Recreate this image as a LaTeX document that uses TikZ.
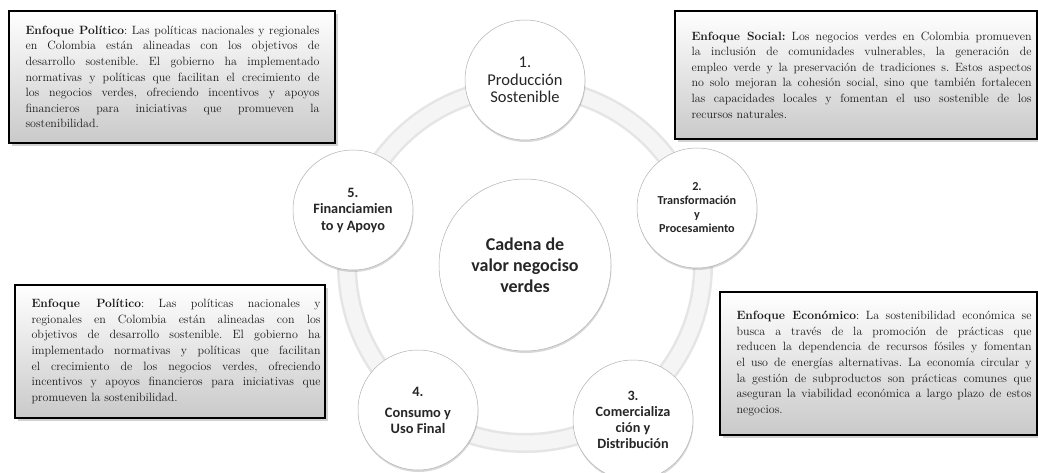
\documentclass[tikz,border=0pt]{standalone}
\usepackage{fontspec}
\newfontfamily\carl{Carlito}
\usetikzlibrary{shadows}
\tikzset{
  notebox/.style={draw=black, line width=1.3pt, top color=white, bottom color=gray!42,
    inner sep=0pt, rectangle,
    drop shadow={shadow xshift=2.5pt, shadow yshift=-3pt, opacity=0.35}},
  notetext/.style={anchor=west, inner sep=0pt, align=justify, text=black!90,
    font=\fontsize{12}{15.6}\selectfont,
    execute at begin node={\hyphenpenalty=10000\relax\exhyphenpenalty=10000\relax\frenchspacing}},
  stage/.style={circle, minimum size=120pt, inner sep=0pt, fill=white, draw=gray!60,
    line width=0.5pt, align=center, text=black!85,
    drop shadow={shadow xshift=0.5pt, shadow yshift=-2pt, opacity=0.3}},
  ringbase/.style={draw=gray!20, line width=20pt},
  ringtop/.style={draw=gray!8, line width=15pt},
}
\begin{document}
\begin{tikzpicture}[x=1pt, y=-1pt]
\useasboundingbox (0,0) rectangle (1038,473);
\fill[white] (0,0) rectangle (1038,473);

% ring
\coordinate (ctr) at (525,265);
\draw[ringbase] (ctr) circle[radius=178];
\draw[ringtop] (ctr) circle[radius=178];

% boxes
\node[notebox, minimum width=326pt, minimum height=132pt] (tlbox) at (172,77) {};
\node[notetext, text width=294pt] (tltext) at ([xshift=17pt]tlbox.west) {%
\textbf{Enfoque Político}: Las políticas nacionales y regionales\linebreak
en Colombia están alineadas con los objetivos de\linebreak
desarrollo sostenible. El gobierno ha implementado\linebreak
normativas y políticas que facilitan el crecimiento de\linebreak
los negocios verdes, ofreciendo incentivos y apoyos\linebreak
financieros para iniciativas que promueven la\linebreak
sostenibilidad.};

\node[notebox, minimum width=362pt, minimum height=128pt] (trbox) at (856,75) {};
\node[notetext, text width=340pt] (trtext) at ([xshift=17pt]trbox.west) {%
\textbf{Enfoque Social:} Los negocios verdes en Colombia promueven\linebreak
la inclusión de comunidades vulnerables, la generación de\linebreak
empleo verde y la preservación de tradiciones s. Estos aspectos\linebreak
no solo mejoran la cohesión social, sino que también fortalecen\linebreak
las capacidades locales y fomentan el uso sostenible de los\linebreak
recursos naturales.};

\node[notebox, minimum width=310pt, minimum height=133pt] (blbox) at (170,351.5) {};
\node[notetext, text width=289pt] (bltext) at ([xshift=17pt]blbox.west) {%
\textbf{Enfoque Político}: Las políticas nacionales y\linebreak
regionales en Colombia están alineadas con los\linebreak
objetivos de desarrollo sostenible. El gobierno ha\linebreak
implementado normativas y políticas que facilitan\linebreak
el crecimiento de los negocios verdes, ofreciendo\linebreak
incentivos y apoyos financieros para iniciativas que\linebreak
promueven la sostenibilidad.};

\node[notebox, minimum width=317pt, minimum height=143pt] (brbox) at (878.5,363.5) {};
\node[notetext, text width=295pt] (brtext) at ([xshift=17pt]brbox.west) {%
\textbf{Enfoque Económico}: La sostenibilidad económica se\linebreak
busca a través de la promoción de prácticas que\linebreak
reducen la dependencia de recursos fósiles y fomentan\linebreak
el uso de energías alternativas. La economía circular y\linebreak
la gestión de subproductos son prácticas comunes que\linebreak
aseguran la viabilidad económica a largo plazo de estos\linebreak
negocios.};

% circles
\node[stage, minimum size=172pt, font=\carl\bfseries\fontsize{18}{21}\selectfont] (center) at (ctr) {Cadena de\\valor negociso\\verdes};
\node[stage, font=\carl\fontsize{16.5}{17.5}\selectfont] (s1) at (525,80) {1.\\Producción\\Sostenible};
\node[stage, font=\carl\bfseries\fontsize{12.2}{14}\selectfont] (s2) at (697,208) {2.\\Transformación\\y\\Procesamiento};
\node[stage, font=\carl\bfseries\fontsize{14.2}{16}\selectfont] (s3) at (633,420) {3.\\Comercializa\\ción y\\Distribución};
\node[stage, font=\carl\bfseries\fontsize{14.4}{16}\selectfont] (s4) at (418,410) {4.\\[5pt]Consumo y\\Uso Final};
\node[stage, font=\carl\bfseries\fontsize{14.3}{16.5}\selectfont] (s5) at (353,210) {5.\\Financiamien\\to y Apoyo};
\end{tikzpicture}
\end{document}
